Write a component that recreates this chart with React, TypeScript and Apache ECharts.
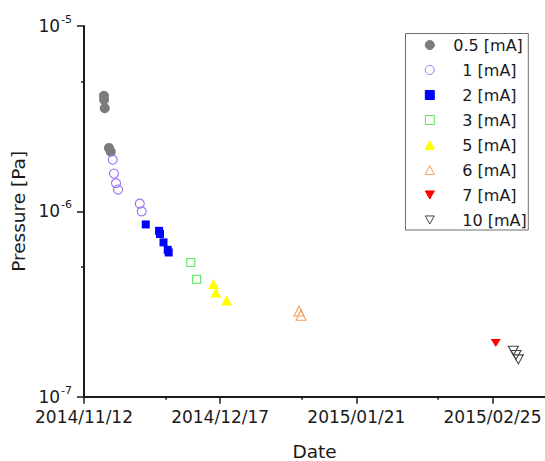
import React, { useEffect, useRef } from 'react';
import * as echarts from 'echarts';

// Axis reference dates and ticks
const ORIGIN_DATE = '2014/11/12';
const DATE_END = '2015/03/10 12:00';
const DATE_TICKS = ['2014/11/12', '2014/12/17', '2015/01/21', '2015/02/25'];
const DATE_MINOR_TICKS = ['2014/12/03', '2015/01/07', '2015/02/11'];
const PRESSURE_MIN = 1e-7;
const PRESSURE_MAX = 1e-5;
const PRESSURE_TICKS = [1e-7, 1e-6, 1e-5];
const PRESSURE_MINOR_TICKS = [5e-7, 5e-6];

// Measurements, grouped by emission current
const DATES_05MA = ['2014/11/17 03:00', '2014/11/17 04:00', '2014/11/17 08:00', '2014/11/18 10:00', '2014/11/18 21:00'];
const P_05MA = [4.2e-6, 4.0e-6, 3.6e-6, 2.2e-6, 2.1e-6];

const DATES_1MA = ['2014/11/19 09:00', '2014/11/19 17:00', '2014/11/20 05:30', '2014/11/20 18:00', '2014/11/26 08:00', '2014/11/26 20:00'];
const P_1MA = [1.9e-6, 1.6e-6, 1.42e-6, 1.31e-6, 1.1e-6, 1.0e-6];

const DATES_2MA = ['2014/11/27 21:00', '2014/12/01 07:00', '2014/12/01 13:00', '2014/12/02 10:30', '2014/12/03 12:30', '2014/12/03 18:30'];
const P_2MA = [8.5e-7, 7.85e-7, 7.55e-7, 6.8e-7, 6.2e-7, 6.0e-7];

const DATES_3MA = ['2014/12/09 10:30', '2014/12/10 23:00'];
const P_3MA = [5.3e-7, 4.3e-7];

const DATES_5MA = ['2014/12/15 06:00', '2014/12/15 22:00', '2014/12/18 16:00'];
const P_5MA = [4.05e-7, 3.65e-7, 3.3e-7];

const DATES_6MA = ['2015/01/06 06:30', '2015/01/06 19:00'];
const P_6MA = [2.9e-7, 2.75e-7];

const DATES_7MA = ['2015/02/25 20:00'];
const P_7MA = [1.95e-7];

const DATES_10MA = ['2015/03/02 08:40', '2015/03/03 01:00', '2015/03/03 15:30'];
const P_10MA = [1.77e-7, 1.68e-7, 1.59e-7];

const DOWN_TRIANGLE = 'path://M0,0L10,0L5,9Z';
const FONT = 'DejaVu Sans';
const INK = '#1a1a1a';

function toDays(s: string): number {
  const [d, t = '00:00'] = s.split(' ');
  const [y, m, dd] = d.split('/').map(Number);
  const [hh, mm] = t.split(':').map(Number);
  const [oy, om, od] = ORIGIN_DATE.split('/').map(Number);
  return (Date.UTC(y, m - 1, dd, hh, mm) - Date.UTC(oy, om - 1, od)) / 86400000;
}

function formatDate(days: number): string {
  const [oy, om, od] = ORIGIN_DATE.split('/').map(Number);
  const dt = new Date(Date.UTC(oy, om - 1, od) + Math.round(days) * 86400000);
  const p = (n: number) => String(n).padStart(2, '0');
  return `${dt.getUTCFullYear()}/${p(dt.getUTCMonth() + 1)}/${p(dt.getUTCDate())}`;
}

type Def = {
  name: string;
  dates: string[];
  values: number[];
  symbol: string;
  size: number | number[];
  fill: string;
  stroke: string;
  filled: boolean;
};

const SERIES_DEFS: Def[] = [
  { name: '0.5 [mA]', dates: DATES_05MA, values: P_05MA, symbol: 'circle', size: 10, fill: '#7b7b7b', stroke: '#7b7b7b', filled: true },
  { name: '1 [mA]', dates: DATES_1MA, values: P_1MA, symbol: 'circle', size: 9, fill: 'rgba(0,0,0,0)', stroke: '#a070f5', filled: false },
  { name: '2 [mA]', dates: DATES_2MA, values: P_2MA, symbol: 'rect', size: 8, fill: '#0000ff', stroke: '#0000ff', filled: true },
  { name: '3 [mA]', dates: DATES_3MA, values: P_3MA, symbol: 'rect', size: 8, fill: 'rgba(0,0,0,0)', stroke: '#5fe35f', filled: false },
  { name: '5 [mA]', dates: DATES_5MA, values: P_5MA, symbol: 'triangle', size: [11, 10], fill: '#ffff00', stroke: '#ffff00', filled: true },
  { name: '6 [mA]', dates: DATES_6MA, values: P_6MA, symbol: 'triangle', size: [10, 10], fill: 'rgba(0,0,0,0)', stroke: '#f2a05e', filled: false },
  { name: '7 [mA]', dates: DATES_7MA, values: P_7MA, symbol: DOWN_TRIANGLE, size: [10, 8], fill: '#ff0000', stroke: '#ff0000', filled: true },
  { name: '10 [mA]', dates: DATES_10MA, values: P_10MA, symbol: DOWN_TRIANGLE, size: [10, 9], fill: 'rgba(0,0,0,0)', stroke: '#444444', filled: false },
];

export default function App() {
  const ref = useRef<HTMLDivElement>(null);

  useEffect(() => {
    if (!ref.current) return;
    const chart = echarts.init(ref.current, undefined, { renderer: 'svg' });
    const xMax = toDays(DATE_END);

    const series = SERIES_DEFS.map((d) => ({
      name: d.name,
      type: 'scatter',
      xAxisIndex: 0,
      yAxisIndex: 0,
      symbol: d.symbol,
      symbolSize: d.size,
      itemStyle: {
        color: d.fill,
        borderColor: d.stroke,
        borderWidth: d.filled ? 0 : 1.1,
        opacity: 1,
      },
      emphasis: { disabled: true },
      data: d.dates.map((dt, i) => [toDays(dt), d.values[i]]),
    }));

    const axisLineStyle = { color: INK, width: 2 };

    chart.setOption({
      animation: false,
      backgroundColor: '#ffffff',
      textStyle: { fontFamily: FONT },
      grid: { left: 84, right: 0, top: 26, bottom: 64.3, containLabel: false, outerBoundsMode: 'none' },
      xAxis: [
        {
          type: 'value',
          min: 0,
          max: xMax,
          position: 'bottom',
          splitLine: { show: false },
          axisLine: { show: true, onZero: false, lineStyle: axisLineStyle },
          axisTick: { show: true, length: 7, customValues: DATE_TICKS.map((t) => toDays(t)), lineStyle: { color: INK, width: 1.5 } },
          axisLabel: {
            customValues: DATE_TICKS.map((t) => toDays(t)),
            formatter: (v: number) => formatDate(v),
            fontSize: 17,
            fontFamily: FONT,
            color: INK,
            margin: 12,
          },
          name: 'Date',
          nameLocation: 'middle',
          nameGap: 47,
          nameTextStyle: { fontSize: 18.5, fontFamily: FONT, color: INK, lineHeight: 16 },
        },
        {
          type: 'value',
          min: 0,
          max: xMax,
          position: 'bottom',
          splitLine: { show: false },
          axisLine: { show: false },
          axisTick: { show: true, length: 3, customValues: DATE_MINOR_TICKS.map((t) => toDays(t)), lineStyle: { color: INK, width: 1.5 } },
          axisLabel: { show: false },
        },
      ],
      yAxis: [
        {
          type: 'log',
          logBase: 10,
          min: PRESSURE_MIN,
          max: PRESSURE_MAX,
          splitLine: { show: false },
          axisLine: { show: true, onZero: false, lineStyle: axisLineStyle },
          axisTick: { show: true, length: 7, customValues: PRESSURE_TICKS, lineStyle: { color: INK, width: 1.5 } },
          axisLabel: {
            customValues: PRESSURE_TICKS,
            margin: 12,
            formatter: (v: number) => `{b|10}{s|${Math.round(Math.log10(v))}}`,
            rich: {
              b: { fontSize: 17, fontFamily: FONT, color: INK, lineHeight: 24, verticalAlign: 'middle' },
              s: { fontSize: 11, fontFamily: FONT, color: INK, lineHeight: 11, verticalAlign: 'top', padding: [0, 0, 0, 1] },
            },
          },
          name: 'Pressure [Pa]',
          nameLocation: 'middle',
          nameGap: 49,
          nameTextStyle: { fontSize: 18.5, fontFamily: FONT, color: INK },
        },
        {
          type: 'log',
          logBase: 10,
          min: PRESSURE_MIN,
          max: PRESSURE_MAX,
          position: 'left',
          splitLine: { show: false },
          axisLine: { show: false },
          axisTick: { show: true, length: 3, customValues: PRESSURE_MINOR_TICKS, lineStyle: { color: INK, width: 1.5 } },
          axisLabel: { show: false },
        },
      ],
      legend: {
        orient: 'vertical',
        left: 424.8,
        top: 37,
        padding: 0,
        itemWidth: 9,
        itemHeight: 9,
        itemGap: 9,
        selectedMode: false,
        itemStyle: { borderWidth: 1 },
        data: SERIES_DEFS.map((d) => d.name),
        formatter: (name: string) => (name === SERIES_DEFS[0].name ? `{p1| }{t|${name}}` : `{p2| }{t|${name}}`),
        textStyle: {
          fontSize: 16,
          fontFamily: FONT,
          color: INK,
          rich: {
            p1: { width: 14, fontSize: 16, lineHeight: 16 },
            p2: { width: 23, fontSize: 16, lineHeight: 16 },
            t: { fontSize: 16, fontFamily: FONT, color: INK, lineHeight: 16 },
          },
        },
      },
      graphic: [
        {
          type: 'rect',
          silent: true,
          z: 1,
          shape: { x: 405.5, y: 33.5, width: 122.8, height: 196.5 },
          style: { fill: 'none', stroke: '#6e6e6e', lineWidth: 1 },
        },
      ],
      series,
    });

    return () => chart.dispose();
  }, []);

  return <div ref={ref} style={{ position: 'absolute', left: 0, top: 0, width: 545, height: 461 }} />;
}
